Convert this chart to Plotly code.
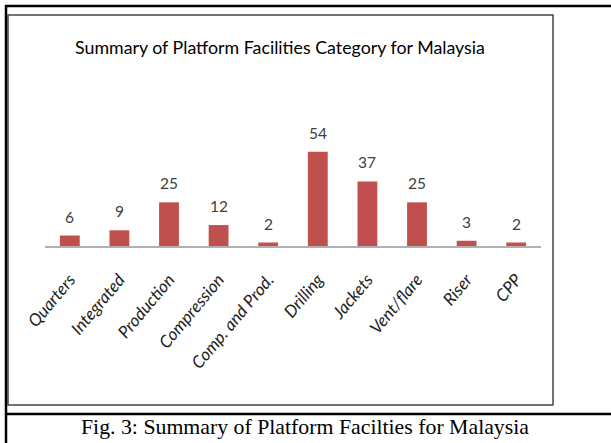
import plotly.graph_objects as go

categories = ["Quarters", "Integrated", "Production", "Compression", "Comp. and Prod.",
              "Drilling", "Jackets", "Vent/flare", "Riser", "CPP"]
counts = [6, 9, 25, 12, 2, 54, 37, 25, 3, 2]

title_text = "Summary of Platform Facilities Category for Malaysia"
caption_text = "Fig. 3: Summary of Platform Facilties for Malaysia"

W, H = 611, 443
ML, MR, MT, MB = 45, 70, 100, 197
PW = W - ML - MR
PH = H - MT - MB
AXIS_Y = H - MB


def px(x):
    return (x - ML) / PW


def py(y):
    return (AXIS_Y - y) / PH


fig = go.Figure()
fig.add_trace(go.Bar(
    x=categories, y=counts,
    marker=dict(color="#C0504D", line=dict(width=0)),
    hoverinfo="x+y",
))

annotations = []
for c, v in zip(categories, counts):
    annotations.append(dict(
        x=c, y=v, xref="x", yref="y", text=str(v), showarrow=False,
        yshift=19, yanchor="middle", xanchor="center",
        font=dict(family="Lato, Carlito, sans-serif", size=15.5, color="#404040"),
    ))

annotations.append(dict(
    x=px(280), y=py(47), xref="paper", yref="paper", text=title_text,
    showarrow=False, xanchor="center", yanchor="middle",
    font=dict(family="Lato, sans-serif", size=17.8, color="#000000"),
))
annotations.append(dict(
    x=px(305), y=py(427), xref="paper", yref="paper", text=caption_text,
    showarrow=False, xanchor="center", yanchor="middle",
    font=dict(family="Liberation Serif, Times New Roman, serif", size=21.8, color="#000000"),
))

shapes = [
    # inner chart box
    dict(type="rect", xref="paper", yref="paper", x0=px(8), x1=px(553), y0=py(405), y1=py(15),
         line=dict(color="#444444", width=1.5), fillcolor="rgba(0,0,0,0)", layer="below"),
    # outer left border
    dict(type="line", xref="paper", yref="paper", x0=px(6), x1=px(6), y0=py(445), y1=py(5),
         line=dict(color="#000000", width=2.5)),
    # outer top border
    dict(type="line", xref="paper", yref="paper", x0=px(5), x1=px(615), y0=py(6), y1=py(6),
         line=dict(color="#000000", width=2.5)),
    # caption separator
    dict(type="line", xref="paper", yref="paper", x0=px(5), x1=px(615), y0=py(414), y1=py(414),
         line=dict(color="#000000", width=2.5)),
]

fig.update_layout(
    width=W, height=H,
    margin=dict(l=ML, r=MR, t=MT, b=MB, pad=0),
    paper_bgcolor="white", plot_bgcolor="white",
    showlegend=False,
    bargap=0.6,
    annotations=annotations,
    shapes=shapes,
)
fig.update_xaxes(
    showline=True, linecolor="#B0B0B0", linewidth=2,
    showgrid=False, ticks="", tickangle=-50,
    ticklabelstandoff=15,
    tickfont=dict(family="Lato, Carlito, sans-serif", size=17, color="#202020", style="italic"),
)
fig.update_yaxes(
    visible=False, range=[0, PH / 1.746], showgrid=False, zeroline=False,
)

fig.write_html(
    "out.html",
    config={"displayModeBar": False},
    post_script="document.body.style.margin='0';document.body.style.padding='0';",
)
